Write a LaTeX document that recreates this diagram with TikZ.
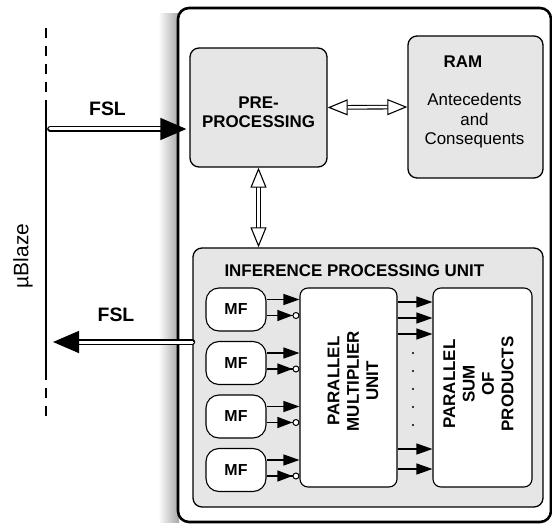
\documentclass[tikz,border=0pt]{standalone}
\usepackage{fontspec}
\setmainfont{Liberation Sans}
\usetikzlibrary{arrows.meta,calc}
\definecolor{boxgray}{RGB}{230,230,230}
\begin{document}
\begin{tikzpicture}
[x=1bp, y=-1bp,
  bigbox/.style={draw, line width=2.6bp, rounded corners=11bp, fill=white},
  graybox/.style={draw, line width=1.3bp, rounded corners=9bp, fill=boxgray},
  whitebox/.style={draw, line width=1.1bp, rounded corners=8bp, fill=white},
  mfbox/.style={draw, line width=1.1bp, rounded corners=13bp, fill=white,
    minimum width=60bp, minimum height=43bp},
  lbl/.style={font=\bfseries\fontsize{17}{19.5}\selectfont, align=center},
  txt/.style={font=\fontsize{17}{19.5}\selectfont, align=center},
  fsl/.style={double=white, double distance=3bp, line width=1.4bp, line cap=round,
    -{Triangle[length=26bp, width=22bp]}},
  link/.style={double=white, double distance=2.5bp, line width=1.1bp,
    {Triangle[fill=white, line width=1.1bp, length=20bp, width=16bp]}-{Triangle[fill=white, line width=1.1bp, length=20bp, width=16bp]}},
  sig/.style={line width=1.2bp, -{Triangle[length=16bp, width=11bp]}},
  negsig/.style={line width=1.2bp,
    -{Triangle[length=15bp, width=11bp, sep=0pt]Circle[fill=white, length=7bp, line width=1bp]}}]
\useasboundingbox (0,0) rectangle (552,525);
%% shadow and FPGA outline
\shade[left color=white, right color=black!35] (158,14) rectangle (179,522);
\node[bigbox, minimum width=373bp, minimum height=514bp] (fpga) at (364.5,265) {};
%% uBlaze bus
\coordinate (ubtop) at (46,28);
\coordinate (ubup) at (46,100);
\coordinate (ubdown) at (46,370);
\coordinate (ubbot) at (46,422);
\draw[line width=1.1bp, dash pattern=on 10bp off 8bp] (ubtop) -- (ubup);
\draw[line width=1.1bp] (ubup) -- (ubdown);
\draw[line width=1.1bp, dash pattern=on 10bp off 8bp] (ubdown) -- (ubbot);
\node[txt, rotate=90, font=\fontsize{21}{24}\selectfont] (ublaze) at (23,256) {µBlaze};
%% upper blocks
\node[graybox, minimum width=137bp, minimum height=119bp] (pre) at (258.5,107.5) {};
\node[lbl] (prelbl) at ([yshift=-5bp]pre.center) {PRE-\\PROCESSING};
\node[graybox, minimum width=135bp, minimum height=142bp] (ram) at (475.5,107) {};
\node[lbl] (ramlbl) at (463,62) {RAM};
\node[txt] (ramtxt) at (474.5,121) {Antecedents\\and\\Consequents};
%% inference processing unit
\node[graybox, minimum width=350bp, minimum height=259bp] (ipu) at (368,377.5) {};
\node[lbl, anchor=west] (ipulbl) at (221,271) {INFERENCE PROCESSING UNIT};
\node[whitebox, minimum width=97bp, minimum height=199bp] (mult) at (348.5,387.5) {};
\node[lbl, rotate=90] (multlbl) at (353,381) {PARALLEL\\MULTIPLIER\\UNIT};
\node[whitebox, minimum width=99bp, minimum height=199bp] (sum) at (482.5,387.5) {};
\node[lbl, rotate=90] (sumlbl) at (478.5,384) {PARALLEL\\SUM\\OF\\PRODUCTS};
%% membership functions
\foreach \i/\y in {1/309.5, 2/363, 3/416.5, 4/470} {
  \node[mfbox, lbl, font=\bfseries\fontsize{16}{19}\selectfont] (mf\i) at (236,\y) {MF};
  \coordinate (a\i) at ([yshift=10bp]mf\i.east);
  \coordinate (b\i) at ([yshift=-6bp]mf\i.east);
  \draw[sig] (a\i) -- (a\i -| mult.west);
  \draw[negsig] (b\i) -- (b\i -| mult.west);
}
%% products into the sum
\foreach \y in {302,318,334,449,469} {
  \draw[sig] (mult.east |- 0,\y) -- (sum.west |- 0,\y);
}
\foreach \y in {353,371,389,407,425} {
  \fill (413,\y) circle (1.2bp);
}
%% links
\draw[link] (pre.east) -- (ram.west);
\draw[link] (pre.south) -- (pre.south |- ipu.north);
\coordinate (fslin) at (50,129);
\coordinate (fslout) at (53,342);
\draw[fsl, shorten >=3bp] (fslin) -- (fslin -| pre.west);
\draw[fsl] (fslout -| ipu.west) -- (fslout);
\node[lbl, font=\bfseries\fontsize{19.5}{22}\selectfont] (fslinlbl) at (107.5,109) {FSL};
\node[lbl, font=\bfseries\fontsize{19.5}{22}\selectfont] (fsloutlbl) at (116,315) {FSL};
\end{tikzpicture}
\end{document}
